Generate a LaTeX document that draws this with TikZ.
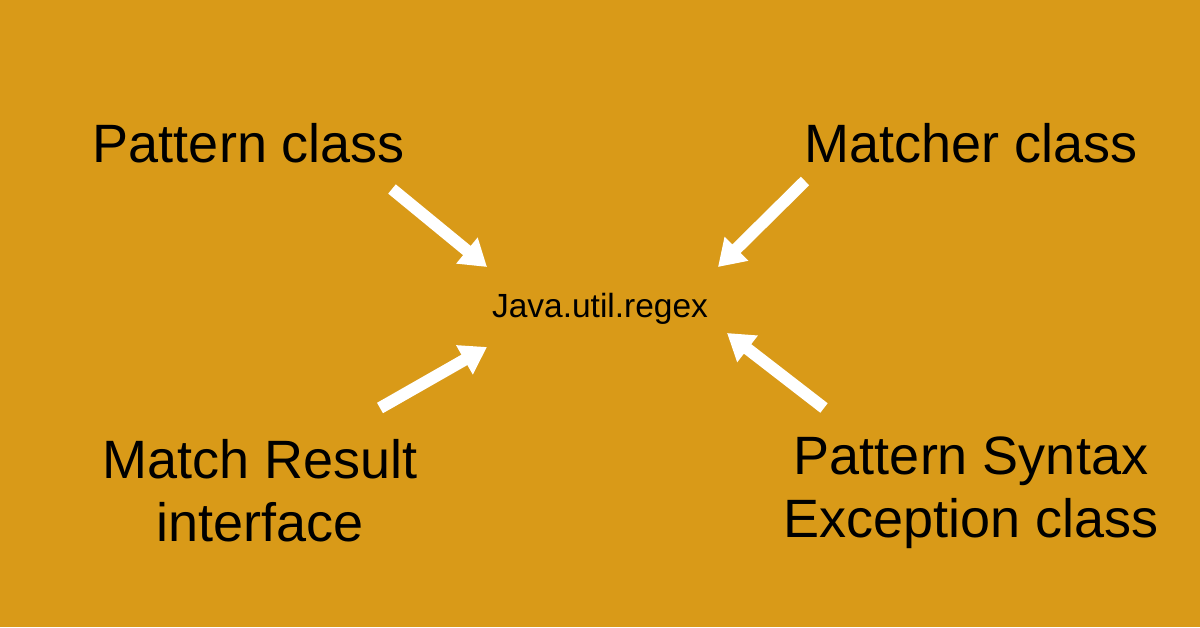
\documentclass[tikz,border=0pt]{standalone}
\usepackage{fontspec}
\setmainfont{Liberation Sans}
\usetikzlibrary{arrows.meta}
\definecolor{bg}{RGB}{217,154,24}
\begin{document}
\begin{tikzpicture}[x=1pt,y=-1pt,
  lab/.style={font=\fontsize{54}{63}\selectfont, text=black, align=center, inner sep=0pt},
  ctr/.style={font=\fontsize{33.5}{38}\selectfont, text=black, inner sep=0pt},
  wa/.style={draw=white, line width=12pt, -{Triangle[length=26pt,width=32pt]}}]
\fill[bg] (0,0) rectangle (1200,627);
\useasboundingbox (0,0) rectangle (1200,627);
\node[lab] (pat) at (249,143) {Pattern class};
\node[lab] (mat) at (971,143) {Matcher class};
\node[lab] (mr) at (260,491) {Match Result\\interface};
\node[lab] (pse) at (971,493) {Pattern Syntax\\Exception class};
\node[ctr] (jur) at (600,309) {Java.util.regex};
\coordinate (t1) at (392,189);
\coordinate (h1) at (487,267);
\coordinate (t2) at (805,181);
\coordinate (h2) at (718,267);
\coordinate (t3) at (380,408);
\coordinate (h3) at (487,347);
\coordinate (t4) at (824,408);
\coordinate (h4) at (727,333);
\draw[wa] (t1) -- (h1);
\draw[wa] (t2) -- (h2);
\draw[wa] (t3) -- (h3);
\draw[wa] (t4) -- (h4);
\end{tikzpicture}
\end{document}
